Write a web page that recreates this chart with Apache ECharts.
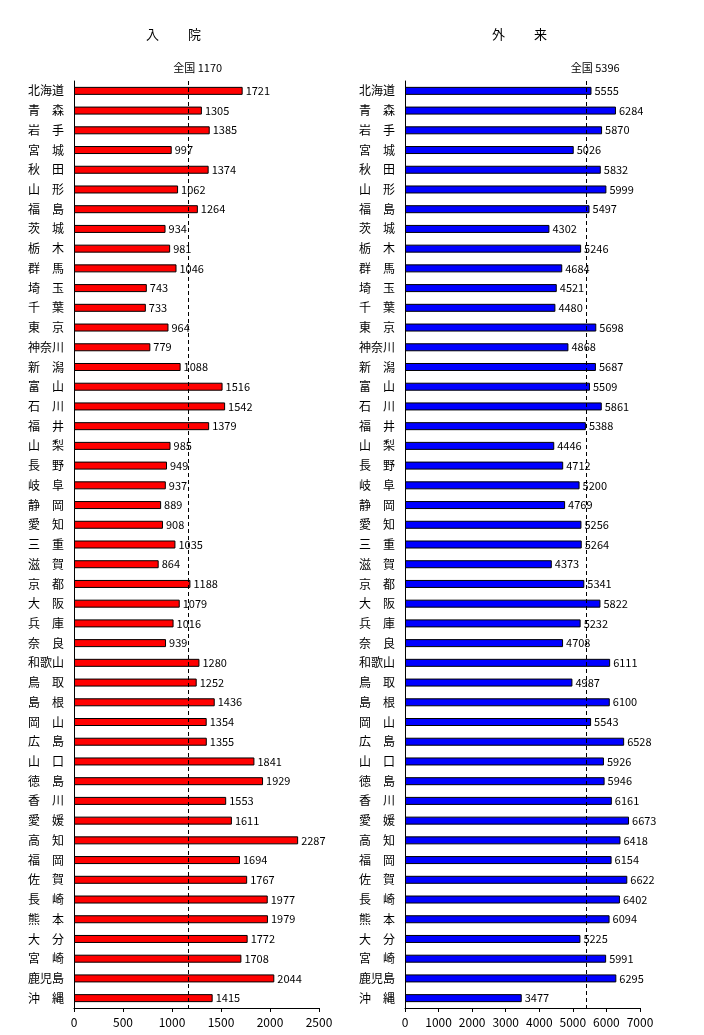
<!DOCTYPE html>
<html><head><meta charset="utf-8">
<script src="https://cdn.jsdelivr.net/npm/echarts@6/dist/echarts.min.js"></script>
<style>html,body{margin:0;padding:0;background:#fff}#c{width:704px;height:1035px}</style>
</head><body><div id="c"></div>
<script>
const prefectures = ['北海道','青　森','岩　手','宮　城','秋　田','山　形','福　島','茨　城','栃　木','群　馬','埼　玉','千　葉','東　京','神奈川','新　潟','富　山','石　川','福　井','山　梨','長　野','岐　阜','静　岡','愛　知','三　重','滋　賀','京　都','大　阪','兵　庫','奈　良','和歌山','鳥　取','島　根','岡　山','広　島','山　口','徳　島','香　川','愛　媛','高　知','福　岡','佐　賀','長　崎','熊　本','大　分','宮　崎','鹿児島','沖　縄'];
const inpatient = [1721,1305,1385,997,1374,1062,1264,934,981,1046,743,733,964,779,1088,1516,1542,1379,985,949,937,889,908,1035,864,1188,1079,1016,939,1280,1252,1436,1354,1355,1841,1929,1553,1611,2287,1694,1767,1977,1979,1772,1708,2044,1415];
const outpatient = [5555,6284,5870,5026,5832,5999,5497,4302,5246,4684,4521,4480,5698,4868,5687,5509,5861,5388,4446,4712,5200,4769,5256,5264,4373,5341,5822,5232,4708,6111,4987,6100,5543,6528,5926,5946,6161,6673,6418,6154,6622,6402,6094,5225,5991,6295,3477];
const nationalIn = 1170;
const nationalOut = 5396;
const titles = ['入　　 院', '外　　 来'];
const xTicksIn = {min: 0, max: 2500, interval: 500};
const xTicksOut = {min: 0, max: 7000, interval: 1000};

const FONT = '"Noto Sans CJK JP", sans-serif';
const chart = echarts.init(document.getElementById('c'), null, {renderer: 'canvas'});

function xAxis(idx, t) {
  return {
    type: 'value', gridIndex: idx, min: t.min, max: t.max, interval: t.interval,
    axisLine: {show: true, lineStyle: {color: '#000', width: 1}},
    axisTick: {show: true, length: 4, lineStyle: {color: '#000'}},
    axisLabel: {color: '#000', fontSize: 12, fontFamily: FONT, margin: 8, formatter: v => String(v)},
    splitLine: {show: false}
  };
}
function yAxis(idx) {
  return {
    type: 'category', gridIndex: idx, data: prefectures, inverse: true,
    axisLine: {show: true, lineStyle: {color: '#000', width: 1}},
    axisTick: {show: false},
    axisLabel: {color: '#000', fontSize: 12, fontFamily: FONT, margin: 10}
  };
}
function series(idx, data, color, nat) {
  return {
    type: 'bar', xAxisIndex: idx, yAxisIndex: idx, data: data, barWidth: 8,
    itemStyle: {color: color, borderColor: '#000', borderWidth: 1},
    label: {show: true, position: 'right', distance: 3, color: '#000', fontSize: 11, fontFamily: FONT, formatter: p => String(p.value)},
    markLine: {
      silent: true, symbol: 'none', animation: false,
      lineStyle: {color: '#000', type: [4, 3], width: 1},
      label: {show: true, position: 'start', formatter: '全国 ' + nat, color: '#000', fontSize: 11, fontFamily: FONT, offset: [9, -3]},
      data: [{xAxis: nat}]
    }
  };
}

chart.setOption({
  animation: false,
  textStyle: {fontFamily: FONT},
  title: [
    {text: titles[0], left: 141, top: 23, textStyle: {fontSize: 13, fontWeight: 'normal', color: '#000', fontFamily: FONT}},
    {text: titles[1], left: 487, top: 23, textStyle: {fontSize: 13, fontWeight: 'normal', color: '#000', fontFamily: FONT}}
  ],
  grid: [
    {left: 74, width: 245, top: 81, height: 927},
    {left: 405, width: 235, top: 81, height: 927}
  ],
  xAxis: [xAxis(0, xTicksIn), xAxis(1, xTicksOut)],
  yAxis: [yAxis(0), yAxis(1)],
  series: [series(0, inpatient, '#FF0000', nationalIn), series(1, outpatient, '#0000FF', nationalOut)]
});
</script></body></html>
